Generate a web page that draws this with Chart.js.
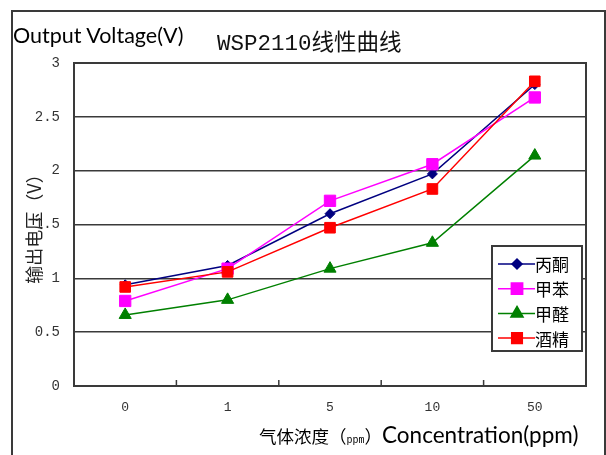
<!DOCTYPE html>
<html><head><meta charset="utf-8">
<script src="https://cdn.jsdelivr.net/npm/chart.js@4"></script>
<style>
html,body{margin:0;padding:0;background:#fff;}
#wrap{position:relative;width:606px;height:455px;overflow:hidden;}
#frame{position:absolute;left:11px;top:10px;width:591px;height:500px;border:2px solid #3a3a3a;}
canvas{position:absolute;left:0;top:0;}
.t{position:absolute;white-space:nowrap;color:#000;line-height:1;}
</style></head><body>
<div id="wrap">
<div id="frame"></div>
<canvas id="c" width="606" height="455"></canvas>
<div class="t" style="left:13px;top:25px;font-size:21.5px;font-family:Lato;">Output Voltage(V)</div>
<div class="t" style="left:217px;top:29px;font-size:22.5px;font-family:'Noto Sans CJK SC';color:#111"><span style="font-family:'Liberation Mono';font-size:22.5px">WSP2110</span>线性曲线</div>
<div class="t" style="left:259px;top:424px;"><span style="font-size:17.5px;font-family:'Noto Sans CJK SC'">气体浓度（<span style="font-size:10px;font-family:'Liberation Mono'">ppm</span>）</span><span style="font-size:22.5px;font-family:Lato">Concentration(ppm)</span></div>
</div>
<script>
const categories = ['0', '1', '5', '10', '50'];
const seriesNames = ['丙酮', '甲苯', '甲醛', '酒精'];
const acetone = [0.94, 1.12, 1.60, 1.97, 2.80];
const toluene = [0.79, 1.09, 1.72, 2.06, 2.68];
const formaldehyde = [0.66, 0.80, 1.09, 1.33, 2.14];
const alcohol = [0.92, 1.06, 1.47, 1.83, 2.83];
const yTicks = [0, 0.5, 1, 1.5, 2, 2.5, 3];
const yTitle = '输出电压（V）';

const seriesValues = [acetone, toluene, formaldehyde, alcohol];
const colors = ['#000080', '#FF00FF', '#008000', '#FF0000'];
const pointStyles = ['rectRot', 'rect', 'triangle', 'rect'];
const radii = [5, 8, 7, 7.5];

const frameAndTicks = {
  id: 'frameAndTicks',
  beforeDatasetsDraw(chart) {
    const ctx = chart.ctx, a = chart.chartArea, xs = chart.scales.x;
    ctx.save();
    ctx.strokeStyle = '#3a3a3a';
    ctx.lineWidth = 2;
    ctx.strokeRect(a.left, a.top, a.right - a.left, a.bottom - a.top);
    ctx.lineWidth = 1.5;
    for (let i = 0; i < categories.length - 1; i++) {
      const x = (xs.getPixelForValue(i) + xs.getPixelForValue(i + 1)) / 2;
      ctx.beginPath();
      ctx.moveTo(x, a.bottom);
      ctx.lineTo(x, a.bottom - 6);
      ctx.stroke();
    }
    ctx.restore();
  }
};

const boxLegend = {
  id: 'boxLegend',
  afterDatasetsDraw(chart) {
    const ctx = chart.ctx, a = chart.chartArea;
    const x0 = a.right - 94, y0 = a.top + 183, w = 90, h = 105;
    ctx.save();
    ctx.fillStyle = '#fff';
    ctx.fillRect(x0, y0, w, h);
    ctx.strokeStyle = '#3a3a3a';
    ctx.lineWidth = 2;
    ctx.strokeRect(x0, y0, w, h);
    chart.data.datasets.forEach((ds, i) => {
      const y = y0 + 18 + i * 24.7;
      ctx.strokeStyle = ds.borderColor;
      ctx.lineWidth = 1.5;
      ctx.beginPath();
      ctx.moveTo(x0 + 6, y);
      ctx.lineTo(x0 + 43, y);
      ctx.stroke();
      ctx.fillStyle = ds.borderColor;
      Chart.helpers.drawPoint(ctx, {
        pointStyle: ds.pointStyle, radius: ds.pointRadius, borderWidth: 1, rotation: 0
      }, x0 + 25, y);
      ctx.fill();
      ctx.fillStyle = '#000';
      ctx.font = "17px 'Noto Sans CJK SC'";
      ctx.textBaseline = 'middle';
      ctx.textAlign = 'left';
      ctx.fillText(ds.label, x0 + 43, y + 1);
    });
    ctx.restore();
  }
};

new Chart(document.getElementById('c'), {
  type: 'line',
  data: {
    labels: categories,
    datasets: seriesValues.map((vals, i) => ({
      label: seriesNames[i],
      data: vals,
      borderColor: colors[i],
      backgroundColor: colors[i],
      pointBackgroundColor: colors[i],
      pointBorderColor: colors[i],
      pointStyle: pointStyles[i],
      pointRadius: radii[i],
      pointBorderWidth: 1,
      borderWidth: 1.5,
      tension: 0,
      fill: false,
      order: seriesNames.length - i
    }))
  },
  options: {
    responsive: false,
    animation: false,
    devicePixelRatio: 1,
    layout: { padding: { left: 0, top: 63, right: 20, bottom: 37 } },
    plugins: { legend: { display: false }, tooltip: { enabled: false } },
    scales: {
      x: {
        type: 'category',
        offset: true,
        grid: { display: false, drawTicks: false },
        border: { display: false },
        ticks: { padding: 14, color: '#333', maxRotation: 0, autoSkip: false,
                 font: { family: 'Liberation Mono', size: 13 } },
        afterFit: s => { s.height = 32; }
      },
      y: {
        min: 0, max: 3,
        afterBuildTicks: s => { s.ticks = yTicks.map(v => ({ value: v })); },
        grid: { color: '#3a3a3a', lineWidth: 1.5, drawTicks: false },
        border: { display: false },
        ticks: { padding: 14, color: '#333', font: { family: 'Liberation Mono', size: 14 },
                 callback: v => String(v) },
        title: { display: true, text: yTitle, color: '#222',
                 font: { family: 'Noto Sans CJK SC', size: 18 }, padding: { top: 23, bottom: 0 } },
        afterFit: s => { s.width = 74; }
      }
    }
  },
  plugins: [frameAndTicks, boxLegend]
});
</script>
</body></html>
